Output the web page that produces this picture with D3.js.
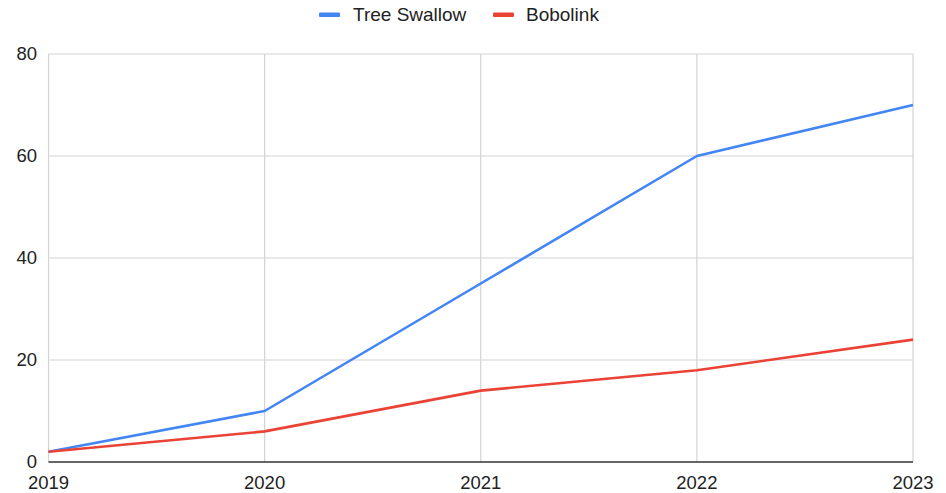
<!DOCTYPE html>
<html><head><meta charset="utf-8">
<script src="https://cdn.jsdelivr.net/npm/d3@7"></script>
<style>body{margin:0;background:#fff}svg{display:block;font-family:"Liberation Sans",Arial,sans-serif}</style>
</head><body><svg id="c" width="946" height="493"></svg>
<script>
const years = ["2019","2020","2021","2022","2023"];
const treeSwallow = [2,10,35,60,70];
const bobolink = [2,6,14,18,24];
const yTicks = [0,20,40,60,80];
const seriesNames = ["Tree Swallow","Bobolink"];
const seriesColors = ["#4285F4","#EA4335"];

const svg = d3.select("#c");
const m = {l:48.5, r:913, t:54, b:462};
const x = d3.scalePoint().domain(years).range([m.l, m.r]);
const y = d3.scaleLinear().domain([0,80]).range([m.b, m.t]);

// horizontal grid
svg.append("g").selectAll("line").data(yTicks.filter(d=>d>0)).join("line")
  .attr("x1",m.l).attr("x2",m.r).attr("y1",d=>y(d)).attr("y2",d=>y(d))
  .attr("stroke","#d3d3d3").attr("stroke-width",1.2);
// vertical grid
svg.append("g").selectAll("line").data(years).join("line")
  .attr("x1",d=>x(d)).attr("x2",d=>x(d)).attr("y1",m.t).attr("y2",m.b)
  .attr("stroke","#d3d3d3").attr("stroke-width",1.2);
// baseline
svg.append("line").attr("x1",m.l).attr("x2",m.r).attr("y1",y(0)).attr("y2",y(0))
  .attr("stroke","#333").attr("stroke-width",1.5);

// y labels
svg.append("g").selectAll("text").data(yTicks).join("text")
  .attr("x",37).attr("y",d=>y(d)).attr("dy","0.32em").attr("text-anchor","end")
  .attr("font-size",18.5).attr("fill","#222").text(d=>d);
// x labels
svg.append("g").selectAll("text").data(years).join("text")
  .attr("x",d=>x(d)).attr("y",489).attr("text-anchor","middle")
  .attr("font-size",18.5).attr("fill","#222").text(d=>d);

const line = d3.line().x((d,i)=>x(years[i])).y(d=>y(d));
[treeSwallow,bobolink].forEach((s,i)=>{
  svg.append("path").datum(s).attr("d",line).attr("fill","none")
    .attr("stroke",seriesColors[i]).attr("stroke-width",2.6).attr("stroke-linejoin","round");
});

// legend
const leg = [{x:319,tx:353},{x:493,tx:526}];
seriesNames.forEach((n,i)=>{
  svg.append("rect").attr("x",leg[i].x).attr("y",12.5).attr("width",21).attr("height",4.5)
    .attr("rx",1).attr("fill",seriesColors[i]);
  svg.append("text").attr("x",leg[i].tx).attr("y",21)
    .attr("font-size",19).attr("fill","#222").text(n);
});
</script></body></html>
